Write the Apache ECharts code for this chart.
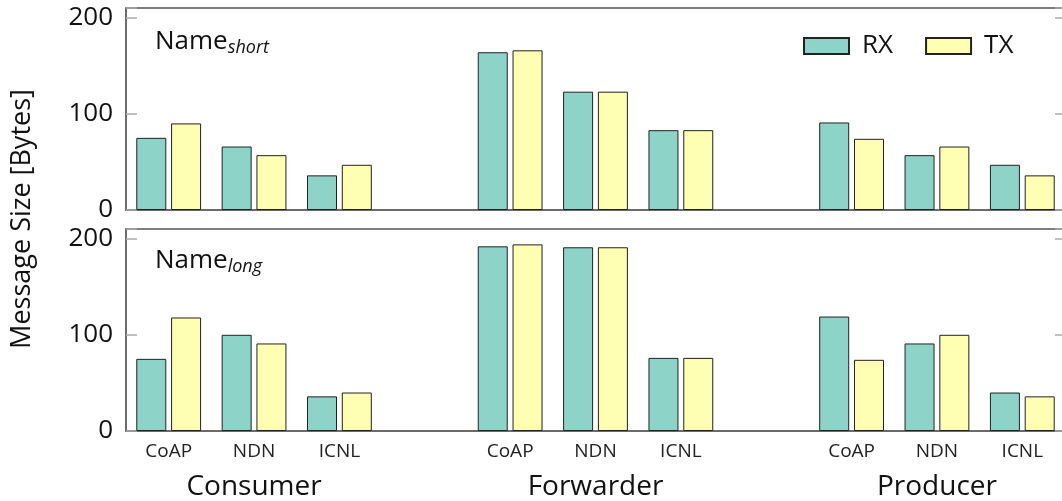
<!DOCTYPE html>
<html><head><meta charset="utf-8">
<script src="https://cdn.jsdelivr.net/npm/echarts@6/dist/echarts.min.js"></script>
<style>html,body{margin:0;padding:0;background:#fff;}#c{width:1062px;height:501px;}</style>
</head><body><div id="c"></div>
<script>
const protocols = ['CoAP', 'NDN', 'ICNL'];
const groups = ['Consumer', 'Forwarder', 'Producer'];
const yTicks = [0, 100, 200];
// values per group: Consumer CoAP,NDN,ICNL | Forwarder ... | Producer ...
const shortRX = [75, 66, 36, 164, 123, 83, 91, 57, 47];
const shortTX = [90, 57, 47, 166, 123, 83, 74, 66, 36];
const longRX  = [75, 100, 36, 192, 191, 76, 119, 91, 40];
const longTX  = [118, 91, 40, 194, 191, 76, 74, 100, 36];

const FONT = 'Open Sans';
const cats = [], groupCats = [];
groups.forEach((g, gi) => {
  protocols.forEach((p, pi) => { cats.push(p); groupCats.push(pi === 1 ? g : ''); });
  if (gi < groups.length - 1) { cats.push(''); groupCats.push(''); }
});
function pad(arr) {
  const out = []; let k = 0;
  groups.forEach((g, gi) => {
    protocols.forEach(() => out.push(arr[k++]));
    if (gi < groups.length - 1) out.push('-');
  });
  return out;
}
const COL_RX = '#8dd3c7', COL_TX = '#ffffb3';
const grids = [
  {left: 126, width: 939, top: 8, height: 202, show: true, borderColor: '#555', borderWidth: 1.5, outerBoundsMode: 'none', containLabel: false},
  {left: 126, width: 939, top: 229, height: 202, show: true, borderColor: '#555', borderWidth: 1.5, outerBoundsMode: 'none', containLabel: false}
];
function yLeft(gi) {
  return {type: 'value', gridIndex: gi, min: 0, max: 210, interval: 100, position: 'left',
    axisLine: {show: true, lineStyle: {color: '#666', width: 1.5}},
    axisTick: {show: true, inside: true, length: 11, lineStyle: {color: '#aaa', width: 1.5}},
    axisLabel: {fontFamily: FONT, fontSize: 26, color: '#111', margin: 13,
      formatter: v => yTicks.includes(v) ? String(v) : ''},
    splitLine: {show: false}};
}
function yRight(gi) {
  return {type: 'value', gridIndex: gi, min: 0, max: 210, interval: 100, position: 'right',
    axisLine: {show: false},
    axisTick: {show: true, inside: true, length: 10, lineStyle: {color: '#aaa', width: 1.5}},
    axisLabel: {show: false}, splitLine: {show: false}};
}
const xAxes = [
  {type: 'category', gridIndex: 0, data: cats, axisLine: {lineStyle: {color: '#666', width: 1.5}},
    axisTick: {show: false}, axisLabel: {show: false}},
  {type: 'category', gridIndex: 1, data: cats, axisLine: {lineStyle: {color: '#666', width: 1.5}},
    axisTick: {show: false}, axisLabel: {fontFamily: FONT, fontSize: 19, color: '#222', margin: 11, interval: 0}},
  {type: 'category', gridIndex: 1, data: groupCats, position: 'bottom', offset: 37,
    axisLine: {show: false}, axisTick: {show: false},
    axisLabel: {fontFamily: FONT, fontSize: 28, color: '#111', margin: 5, interval: 0}}
];
const barCommon = {type: 'bar', barWidth: 30, barGap: '16%'};
const series = [
  Object.assign({}, barCommon, {name: 'RX', xAxisIndex: 0, yAxisIndex: 0, data: pad(shortRX), itemStyle: {color: COL_RX, borderColor: '#222', borderWidth: 1}}),
  Object.assign({}, barCommon, {name: 'TX', xAxisIndex: 0, yAxisIndex: 0, data: pad(shortTX), itemStyle: {color: COL_TX, borderColor: '#222', borderWidth: 1}}),
  Object.assign({}, barCommon, {name: 'RX', xAxisIndex: 1, yAxisIndex: 2, data: pad(longRX), itemStyle: {color: COL_RX, borderColor: '#222', borderWidth: 1}}),
  Object.assign({}, barCommon, {name: 'TX', xAxisIndex: 1, yAxisIndex: 2, data: pad(longTX), itemStyle: {color: COL_TX, borderColor: '#222', borderWidth: 1}})
];
const chart = echarts.init(document.getElementById('c'), null, {renderer: 'canvas'});
chart.setOption({
  animation: false,
  backgroundColor: '#fff',
  grid: grids,
  xAxis: xAxes,
  yAxis: [yLeft(0), yRight(0), yLeft(1), yRight(1)],
  legend: {data: ['RX', 'TX'], left: 798, top: 28, itemWidth: 45, itemHeight: 16, itemGap: 32,
    icon: 'rect', textStyle: {fontFamily: FONT, fontSize: 26, color: '#111', padding: [0, 0, 0, 8]}},
  graphic: [
    {type: 'text', left: 155, top: 29, style: {rich: {
        a: {fontFamily: FONT, fontSize: 26, fill: '#111'},
        s: {fontFamily: FONT, fontSize: 18, fontStyle: 'italic', fill: '#111', padding: [12, 0, 0, 0]}},
      text: '{a|Name}{s|short}'}},
    {type: 'text', left: 155, top: 248, style: {rich: {
        a: {fontFamily: FONT, fontSize: 26, fill: '#111'},
        s: {fontFamily: FONT, fontSize: 18, fontStyle: 'italic', fill: '#111', padding: [12, 0, 0, 0]}},
      text: '{a|Name}{s|long}'}},
    {type: 'text', x: 22, y: 219, rotation: Math.PI / 2,
      style: {text: 'Message Size [Bytes]', fontFamily: FONT, fontSize: 27, fill: '#111', align: 'center', verticalAlign: 'middle'}}
  ],
  series: series
});
</script></body></html>
